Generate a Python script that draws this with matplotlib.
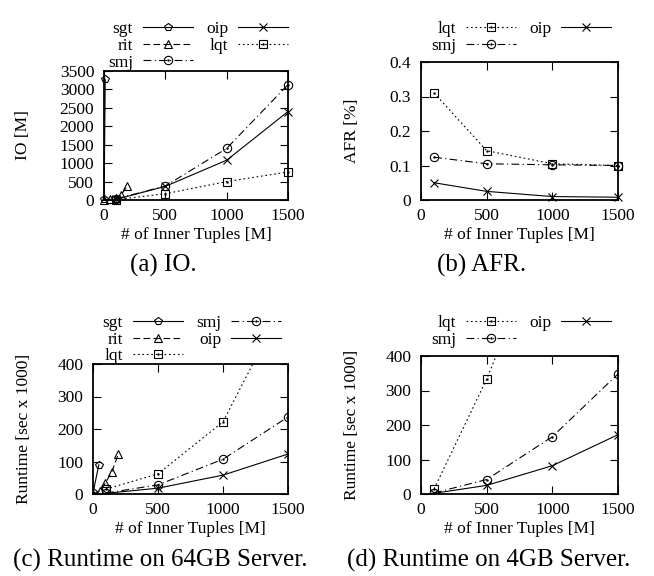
import matplotlib
matplotlib.use("Agg")
import matplotlib.pyplot as plt
from matplotlib.legend_handler import HandlerTuple

plt.rcParams["font.family"] = ["Liberation Serif", "DejaVu Serif"]
plt.rcParams["font.size"] = 12.5

# (a) IO [M]
io_sgt_x = [1, 10]
io_sgt = [40, 3270]
io_rit_x = [1, 50, 100, 140, 190]
io_rit = [5, 20, 60, 140, 380]
io_x = [100, 500, 1000, 1500]
io_smj = [30, 380, 1400, 3130]
io_oip = [20, 370, 1080, 2400]
io_lqt = [10, 170, 500, 760]

# (b) AFR [%]
afr_x = [100, 500, 1000, 1500]
afr_lqt = [0.31, 0.143, 0.105, 0.10]
afr_smj = [0.124, 0.105, 0.102, 0.10]
afr_oip = [0.05, 0.025, 0.01, 0.008]

# (c) runtime, 64GB server
rt64_sgt_x = [1, 45]
rt64_sgt = [5, 90]
rt64_rit_x = [1, 50, 95, 145, 195]
rt64_rit = [1, 8, 33, 69, 123]
rt64_x = [100, 500, 1000, 1500]
rt64_lqt = [15, 62, 222, 610]
rt64_smj = [3, 28, 107, 237]
rt64_oip = [2, 18, 58, 123]

# (d) runtime, 4GB server
rt4_lqt_x = [100, 500, 1000]
rt4_lqt = [15, 333, 800]
rt4_x = [100, 500, 1000, 1500]
rt4_smj = [3, 42, 166, 348]
rt4_oip = [2, 25, 82, 172]

STYLE = {
    "sgt": dict(ls="-", marker="p"),
    "rit": dict(ls=(0, (6, 3)), marker="^"),
    "smj": dict(ls=(0, (7, 3, 1, 3)), marker="o"),
    "lqt": dict(ls=(0, (1.5, 2.5)), marker="s"),
    "oip": dict(ls="-", marker="x"),
}
DOTTED = {"smj", "lqt"}  # markers drawn with a centre dot

fig = plt.figure(figsize=(6.54, 5.76), dpi=100)
W, H = 654, 576


def fx(px):
    return px / W


def fy(py):
    return 1 - py / H


def series(ax, name, x, y, clip=True):
    st = STYLE[name]
    line, = ax.plot(x, y, color="black", lw=0.8, ls=st["ls"], marker=st["marker"],
                    ms=6, mfc="none", mec="black", mew=0.8, clip_on=clip)
    if name in DOTTED:
        dot, = ax.plot(x, y, ls="none", marker=".", ms=1.5, color="black", clip_on=clip)
        return (line, dot)
    return line


def panel(l, r, t, b, ylim, yticks, ylabel, ylabel_x, yfmt=None):
    ax = fig.add_axes([fx(l), fy(b), fx(r - l), (b - t) / H])
    ax.set_xlim(0, 1500)
    ax.set_ylim(*ylim)
    ax.set_xticks([0, 500, 1000, 1500])
    ax.set_yticks(yticks)
    if yfmt:
        ax.set_yticklabels(yfmt)
    ax.tick_params(direction="in", top=True, right=True, length=6, width=0.8)
    ax.tick_params(axis="y", pad=7)
    ax.tick_params(axis="x", pad=6)
    for s in ax.spines.values():
        s.set_linewidth(1.3)
    # axis titles placed in figure pixels
    ax.set_xlabel("# of Inner Tuples [M]")
    ax.xaxis.set_label_coords(0.5, -35 / (b - t))
    ax.xaxis.label.set_va("center")
    ax.set_ylabel(ylabel)
    ax.yaxis.set_label_coords((ylabel_x - l) / (r - l), 0.5)
    ax.yaxis.label.set_va("center")
    return ax


def legend(ax, handles, labels, right, top):
    ax.legend(handles, labels, ncol=2, loc="upper right",
              bbox_to_anchor=(fx(right), fy(top)), bbox_transform=fig.transFigure,
              frameon=False, markerfirst=False, handlelength=2.9, handletextpad=0.55,
              columnspacing=0.75, labelspacing=0.03, borderaxespad=0, borderpad=0,
              handler_map={tuple: HandlerTuple(ndivide=1)})


# (a)
ax = panel(104, 288, 71, 200, (0, 3500), range(0, 3501, 500), "IO [M]", 23)
h = {}
h["sgt"] = series(ax, "sgt", io_sgt_x, io_sgt, clip=False)
h["rit"] = series(ax, "rit", io_rit_x, io_rit, clip=False)
h["smj"] = series(ax, "smj", io_x, io_smj, clip=False)
h["oip"] = series(ax, "oip", io_x, io_oip, clip=False)
h["lqt"] = series(ax, "lqt", io_x, io_lqt, clip=False)
order = ["sgt", "rit", "smj", "oip", "lqt"]
legend(ax, [h[k] for k in order], order, 288, 21)

# (b)
ax = panel(421, 618, 62, 200, (0, 0.4), [0, 0.1, 0.2, 0.3, 0.4], "AFR [%]", 352,
           ["0", "0.1", "0.2", "0.3", "0.4"])
h = {}
h["lqt"] = series(ax, "lqt", afr_x, afr_lqt, clip=False)
h["smj"] = series(ax, "smj", afr_x, afr_smj, clip=False)
h["oip"] = series(ax, "oip", afr_x, afr_oip, clip=False)
order = ["lqt", "smj", "oip"]
legend(ax, [h[k] for k in order], order, 611, 21)

# (c)
ax = panel(93, 288, 364, 494, (0, 400), range(0, 401, 100), "Runtime [sec x 1000]", 24)
h = {}
h["sgt"] = series(ax, "sgt", rt64_sgt_x, rt64_sgt)
h["rit"] = series(ax, "rit", rt64_rit_x, rt64_rit)
h["lqt"] = series(ax, "lqt", rt64_x, rt64_lqt)
h["smj"] = series(ax, "smj", rt64_x, rt64_smj)
h["oip"] = series(ax, "oip", rt64_x, rt64_oip)
order = ["sgt", "rit", "lqt", "smj", "oip"]
legend(ax, [h[k] for k in order], order, 281, 315)

# (d)
ax = panel(421, 618, 356, 494, (0, 400), range(0, 401, 100), "Runtime [sec x 1000]", 352)
h = {}
h["lqt"] = series(ax, "lqt", rt4_lqt_x, rt4_lqt)
h["smj"] = series(ax, "smj", rt4_x, rt4_smj)
h["oip"] = series(ax, "oip", rt4_x, rt4_oip)
order = ["lqt", "smj", "oip"]
legend(ax, [h[k] for k in order], order, 611, 315)

cap = dict(ha="center", va="center", fontsize=18)
fig.text(fx(163), fy(265), "(a) IO.", **cap)
fig.text(fx(482), fy(265), "(b) AFR.", **cap)
fig.text(fx(160), fy(560), "(c) Runtime on 64GB Server.", **cap)
fig.text(fx(489), fy(560), "(d) Runtime on 4GB Server.", **cap)

fig.savefig("out.png", dpi=100)
